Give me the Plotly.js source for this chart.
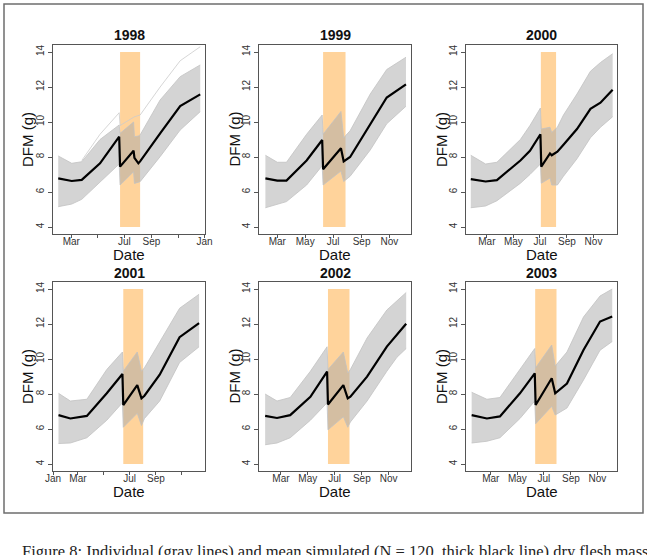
<!DOCTYPE html>
<html>
<head>
<meta charset="utf-8">
<script src="https://cdn.plot.ly/plotly-3.0.1.min.js"></script>
<style>
html,body{margin:0;padding:0;background:#fff;}
#chart{width:647px;height:555px;}
</style>
</head>
<body>
<div id="chart"></div>
<script>
// ---------- data ----------
const years = ['1998', '1999', '2000', '2001', '2002', '2003'];

const x1998 = ['1998-01-30','1998-03-02','1998-03-25','1998-05-06','1998-06-19','1998-06-21','1998-07-22','1998-07-24','1998-08-02','1998-08-06','1998-09-21','1998-11-06','1998-12-22'];
const mean1998 = [6.78, 6.63, 6.69, 7.64, 9.16, 7.45, 8.36, 7.95, 7.64, 7.75, 9.35, 10.91, 11.58];
const upper1998 = [8.06, 7.64, 7.73, 9.0, 9.83, 9.35, 10.0, 9.16, 9.2, 9.26, 11.26, 12.59, 13.26];
const lower1998 = [5.16, 5.31, 5.58, 6.55, 7.6, 6.4, 7.16, 6.49, 6.55, 6.59, 8.02, 9.54, 10.59];
const outX1998 = ['1998-03-25','1998-05-06','1998-06-19','1998-06-21','1998-07-24','1998-08-06','1998-09-21','1998-11-06','1998-12-22'];
const outY1998 = [7.8, 9.3, 10.53, 9.8, 10.3, 10.4, 12.0, 13.5, 14.3];

const x1999 = ['1999-02-03','1999-03-01','1999-03-21','1999-05-04','1999-06-07','1999-06-09','1999-07-18','1999-07-24','1999-08-07','1999-09-20','1999-10-26','1999-12-07'];
const mean1999 = [6.78, 6.65, 6.65, 7.8, 8.97, 7.3, 8.5, 7.75, 8.0, 9.9, 11.4, 12.15];
const upper1999 = [8.1, 7.7, 7.7, 9.3, 10.4, 9.3, 10.6, 9.1, 9.5, 11.6, 13.0, 13.7];
const lower1999 = [5.1, 5.3, 5.45, 6.4, 7.5, 6.4, 7.2, 6.6, 6.9, 8.4, 9.9, 10.9];

const x2000 = ['2000-01-24','2000-02-27','2000-03-24','2000-05-17','2000-06-08','2000-07-02','2000-07-04','2000-07-24','2000-07-28','2000-08-10','2000-08-24','2000-09-24','2000-10-25','2000-11-17','2000-12-15'];
const mean2000 = [6.74, 6.6, 6.68, 7.8, 8.35, 9.3, 7.45, 8.2, 8.1, 8.3, 8.7, 9.6, 10.75, 11.1, 11.85];
const upper2000 = [8.1, 7.6, 7.7, 9.0, 9.8, 10.8, 9.6, 9.7, 9.4, 9.7, 10.4, 11.6, 12.9, 13.4, 13.9];
const lower2000 = [5.1, 5.2, 5.5, 6.5, 7.0, 7.6, 6.5, 6.8, 6.4, 6.4, 6.9, 7.9, 9.1, 9.7, 10.3];

const x2001 = ['2001-01-14','2001-02-11','2001-03-22','2001-05-08','2001-06-14','2001-06-16','2001-07-19','2001-07-29','2001-08-05','2001-09-10','2001-10-27','2001-12-12'];
const mean2001 = [6.79, 6.6, 6.75, 8.04, 9.14, 7.37, 8.51, 7.75, 7.9, 9.1, 11.25, 12.05];
const upper2001 = [8.04, 7.6, 7.7, 9.4, 10.4, 9.3, 10.4, 9.3, 9.5, 11.0, 12.9, 13.7];
const lower2001 = [5.17, 5.2, 5.5, 6.5, 7.5, 6.1, 6.9, 6.2, 6.6, 7.6, 9.8, 10.7];

const x2002 = ['2002-01-24','2002-02-20','2002-03-22','2002-05-07','2002-06-14','2002-06-16','2002-07-21','2002-07-31','2002-08-06','2002-09-13','2002-10-28','2002-11-20','2002-12-11'];
const mean2002 = [6.75, 6.63, 6.79, 7.84, 9.28, 7.4, 8.51, 7.75, 7.85, 8.99, 10.71, 11.38, 12.01];
const upper2002 = [8.0, 7.6, 7.8, 9.3, 10.7, 9.4, 10.4, 9.2, 9.4, 11.2, 12.8, 13.3, 13.8];
const lower2002 = [5.1, 5.2, 5.5, 6.5, 7.5, 5.95, 6.7, 6.1, 6.4, 7.6, 9.3, 10.1, 10.6];

const x2003 = ['2003-01-16','2003-02-20','2003-03-22','2003-05-07','2003-06-10','2003-06-12','2003-07-19','2003-07-27','2003-08-23','2003-09-30','2003-11-07','2003-12-05'];
const mean2003 = [6.79, 6.6, 6.72, 8.04, 9.18, 7.37, 8.9, 8.04, 8.6, 10.52, 12.14, 12.43];
const upper2003 = [8.1, 7.7, 7.8, 9.4, 10.6, 9.5, 10.8, 9.6, 10.4, 12.4, 13.6, 14.0];
const lower2003 = [5.2, 5.3, 5.5, 6.6, 7.6, 6.3, 7.3, 6.8, 7.2, 8.8, 10.5, 11.0];

const spawnStart = ['1998-06-21','1999-06-09','2000-07-03','2001-06-16','2002-06-16','2003-06-11'];
const spawnEnd   = ['1998-08-06','1999-07-28','2000-08-07','2001-08-02','2002-08-04','2003-07-30'];

const xRanges = [
  ['1998-01-18','1999-01-02'], ['1999-01-20','1999-12-18'], ['2000-01-13','2000-12-25'],
  ['2001-01-01','2001-12-26'], ['2002-01-10','2002-12-22'], ['2003-01-03','2003-12-16']
];
const monthTicks = ['-01-01','-03-01','-05-01','-07-01','-09-01','-11-01'];
const tickVals1998 = ['1998-03-01','1998-05-01','1998-07-01','1998-09-01','1998-11-01','1999-01-01'];
const tickText1998 = ['Mar','','Jul','Sep','','Jan'];
const tickTextStd = ['Jan','Mar','May','Jul','Sep','Nov'];
const tickText2001 = ['Jan','Mar','','Jul','Sep',''];
const yTickVals = [4, 6, 8, 10, 12, 14];
const yRange = [3.6, 14.4];

const yLabel = 'DFM (g)';
const xLabel = 'Date';
const caption = 'Figure 8: Individual (gray lines) and mean simulated (N = 120, thick black line) dry flesh mass';

// ---------- build ----------
const W = 647, H = 555;
const colPx = [[53, 205], [259, 411], [466, 617]];
const rowPx = [[45, 234], [282, 471]];
const px2x = p => p / W;
const py2y = p => 1 - p / H;

const series = [
  {x: x1998, m: mean1998, u: upper1998, l: lower1998},
  {x: x1999, m: mean1999, u: upper1999, l: lower1999},
  {x: x2000, m: mean2000, u: upper2000, l: lower2000},
  {x: x2001, m: mean2001, u: upper2001, l: lower2001},
  {x: x2002, m: mean2002, u: upper2002, l: lower2002},
  {x: x2003, m: mean2003, u: upper2003, l: lower2003}
];

const FONT = 'Liberation Sans, Arial, sans-serif';
const traces = [];
const shapes = [];
const annotations = [];
const layout = {
  width: W, height: H,
  margin: {l: 0, r: 0, t: 0, b: 0},
  paper_bgcolor: '#ffffff', plot_bgcolor: '#ffffff',
  showlegend: false,
  font: {family: FONT, color: '#222'}
};

years.forEach((yr, i) => {
  const col = i % 3, row = Math.floor(i / 3);
  const k = i === 0 ? '' : String(i + 1);
  const xa = 'x' + k, ya = 'y' + k;
  const s = series[i];
  const gline = {color: '#c2c2c2', width: 0.8};

  traces.push({x: s.x, y: s.l, mode: 'lines', line: gline, xaxis: xa, yaxis: ya, hoverinfo: 'skip'});
  traces.push({x: s.x, y: s.u, mode: 'lines', line: gline, fill: 'tonexty',
    fillcolor: 'rgba(170,170,170,0.5)', xaxis: xa, yaxis: ya, hoverinfo: 'skip'});
  if (yr === '1998') {
    traces.push({x: outX1998, y: outY1998, mode: 'lines', line: {color: '#cccccc', width: 0.8}, xaxis: xa, yaxis: ya, hoverinfo: 'skip'});
  }
  traces.push({x: s.x, y: s.m, mode: 'lines', line: {color: '#000000', width: 2.2}, xaxis: xa, yaxis: ya});

  let tv, tt;
  if (yr === '1998') { tv = tickVals1998; tt = tickText1998; }
  else {
    tv = monthTicks.map(m => yr + m);
    tt = yr === '2001' ? tickText2001 : tickTextStd;
  }

  layout['xaxis' + k] = {
    domain: [px2x(colPx[col][0]), px2x(colPx[col][1])],
    anchor: ya, type: 'date', range: xRanges[i],
    tickmode: 'array', tickvals: tv, ticktext: tt,
    ticks: 'outside', ticklen: 3, tickwidth: 1, tickcolor: '#555',
    ticklabelstandoff: -5,
    showline: true, mirror: true, linecolor: '#555', linewidth: 1,
    showgrid: false, zeroline: false,
    tickfont: {family: FONT, size: 10, color: '#333'}
  };
  layout['yaxis' + k] = {
    domain: [py2y(rowPx[row][1]), py2y(rowPx[row][0])],
    anchor: xa, range: yRange,
    tickmode: 'array', tickvals: yTickVals,
    ticks: 'outside', ticklen: 4, tickwidth: 1, tickcolor: '#555',
    showline: true, mirror: true, linecolor: '#555', linewidth: 1,
    showgrid: false, zeroline: false, tickangle: -90,
    tickfont: {family: FONT, size: 10, color: '#333'}
  };

  shapes.push({type: 'rect', xref: xa, yref: ya, x0: spawnStart[i], x1: spawnEnd[i], y0: 4, y1: 14,
    fillcolor: '#FFD39B', line: {width: 0}, layer: 'below'});

  const cx = (colPx[col][0] + colPx[col][1]) / 2;
  const titleY = row === 0 ? 35 : 272.5;
  const dateY = row === 0 ? 254.5 : 491.5;
  const midY = (rowPx[row][0] + rowPx[row][1]) / 2;
  const yTitleX = [27.5, 234, 441.5][col];

  annotations.push({text: '<b>' + yr + '</b>', xref: 'paper', yref: 'paper', x: px2x(cx), y: py2y(titleY),
    xanchor: 'center', yanchor: 'middle', showarrow: false, font: {family: FONT, size: 14, color: '#111'}});
  annotations.push({text: xLabel, xref: 'paper', yref: 'paper', x: px2x(cx), y: py2y(dateY),
    xanchor: 'center', yanchor: 'middle', showarrow: false, font: {family: FONT, size: 15, color: '#111'}});
  annotations.push({text: yLabel, xref: 'paper', yref: 'paper', x: px2x(yTitleX), y: py2y(midY),
    xanchor: 'center', yanchor: 'middle', textangle: -90, showarrow: false, font: {family: FONT, size: 15, color: '#111'}});
});

// outer frame and caption
shapes.push({type: 'rect', xref: 'paper', yref: 'paper', x0: px2x(4), x1: px2x(643), y0: py2y(513), y1: py2y(4),
  line: {color: '#6e6e6e', width: 1.5}, fillcolor: 'rgba(0,0,0,0)', layer: 'above'});
annotations.push({text: caption, xref: 'paper', yref: 'paper', x: px2x(20), y: py2y(540),
  xanchor: 'left', yanchor: 'top', showarrow: false,
  font: {family: 'Liberation Serif, Times New Roman, serif', size: 16.5, color: '#222'}});

layout.shapes = shapes;
layout.annotations = annotations;

Plotly.newPlot('chart', traces, layout, {staticPlot: true, displayModeBar: false});
</script>
</body>
</html>
